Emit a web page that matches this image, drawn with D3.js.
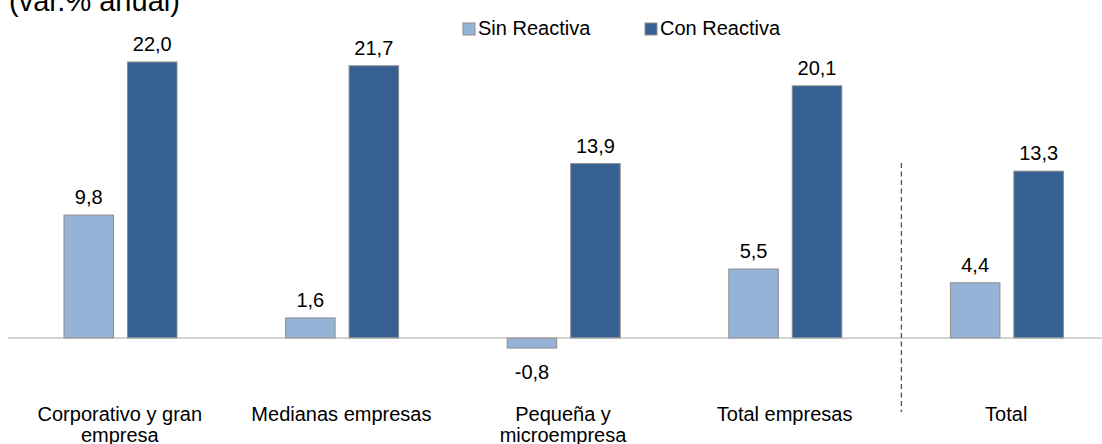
<!DOCTYPE html>
<html>
<head>
<meta charset="utf-8">
<script src="https://cdn.jsdelivr.net/npm/d3@7"></script>
<style>
  body { margin: 0; background: #fff; }
  text { font-family: "Liberation Sans", Arial, sans-serif; fill: #000; }
</style>
</head>
<body>
<div id="chart"></div>
<script>
/*------Data------*/
var categories = ["Corporativo y gran empresa", "Medianas empresas", "Pequeña y microempresa", "Total empresas", "Total"];
var categoryLines = [["Corporativo y gran", "empresa"], ["Medianas empresas"], ["Pequeña y", "microempresa"], ["Total empresas"], ["Total"]];
var seriesNames = ["Sin Reactiva", "Con Reactiva"];
var sinReactiva = [9.8, 1.6, -0.8, 5.5, 4.4];
var conReactiva = [22.0, 21.7, 13.9, 20.1, 13.3];

var width = 1102, height = 444;
var colors = ["#95b3d7", "#366092"];

var svg = d3.select("#chart").append("svg")
    .attr("width", width)
    .attr("height", height);

/*------Scales------*/
var x = d3.scaleBand()
    .domain(categories)
    .range([9, 1117]);

// bars sit in the middle of each band
var x1 = d3.scaleBand()
    .domain(seriesNames)
    .range([55, 168])
    .paddingInner(0.22);

var y = d3.scaleLinear()
    .domain([0, 22])
    .range([338, 62]);

var fmt = function(v) { return v.toFixed(1).replace(".", ","); };

/*------Title------*/
svg.append("text")
    .attr("x", 9)
    .attr("y", 11)
    .style("font-size", "29px")
    .text("(var.% anual)");

/*------Bars------*/
var rows = categories.map(function(c, i) {
  return { cat: c, values: [sinReactiva[i], conReactiva[i]] };
});

var groups = svg.selectAll(".grp")
    .data(rows)
    .enter().append("g")
    .attr("class", "grp")
    .attr("transform", function(d) { return "translate(" + x(d.cat) + ",0)"; });

groups.selectAll("rect")
    .data(function(d) { return d.values.map(function(v, j) { return { s: seriesNames[j], v: v, j: j }; }); })
    .enter().append("rect")
    .attr("x", function(d) { return x1(d.s); })
    .attr("width", x1.bandwidth())
    .attr("y", function(d) { return Math.min(y(d.v), y(0)); })
    .attr("height", function(d) { return Math.abs(y(d.v) - y(0)); })
    .attr("fill", function(d) { return colors[d.j]; })
    .attr("stroke", "#8c8c8c")
    .attr("stroke-width", 1);

groups.selectAll(".val")
    .data(function(d) { return d.values.map(function(v, j) { return { s: seriesNames[j], v: v }; }); })
    .enter().append("text")
    .attr("class", "val")
    .attr("x", function(d) { return x1(d.s) + x1.bandwidth() / 2; })
    .attr("y", function(d) { return d.v >= 0 ? y(d.v) - 11 : y(d.v) + 31; })
    .attr("text-anchor", "middle")
    .style("font-size", "20px")
    .text(function(d) { return fmt(d.v); });

/*------Baseline------*/
svg.append("line")
    .attr("x1", 8).attr("x2", width)
    .attr("y1", y(0)).attr("y2", y(0))
    .attr("stroke", "#a6a6a6")
    .attr("stroke-width", 1);

/*------Dashed separator------*/
var sepX = x("Total") + 6;
svg.append("line")
    .attr("x1", sepX).attr("x2", sepX)
    .attr("y1", 163).attr("y2", 412)
    .attr("stroke", "#595959")
    .attr("stroke-width", 1.4)
    .attr("stroke-dasharray", "5,3.5");

/*------Category labels------*/
var labels = svg.selectAll(".cat")
    .data(categories)
    .enter().append("text")
    .attr("class", "cat")
    .attr("text-anchor", "middle")
    .style("font-size", "20px")
    .attr("transform", function(d) { return "translate(" + (x(d) + x.bandwidth() / 2) + ",421)"; });

labels.selectAll("tspan")
    .data(function(d, i) { return categoryLines[i]; })
    .enter().append("tspan")
    .attr("x", 0)
    .attr("dy", function(d, i) { return i === 0 ? 0 : 21; })
    .text(function(d) { return d; });

/*------Legend------*/
var legendX = [463, 645];
var legend = svg.selectAll(".leg")
    .data(seriesNames)
    .enter().append("g")
    .attr("class", "leg")
    .attr("transform", function(d, i) { return "translate(" + legendX[i] + ",23)"; });

legend.append("rect")
    .attr("width", 12).attr("height", 12)
    .attr("fill", function(d, i) { return colors[i]; })
    .attr("stroke", "#8c8c8c");

legend.append("text")
    .attr("x", 15)
    .attr("y", 12)
    .style("font-size", "20px")
    .text(function(d) { return d; });
</script>
</body>
</html>
